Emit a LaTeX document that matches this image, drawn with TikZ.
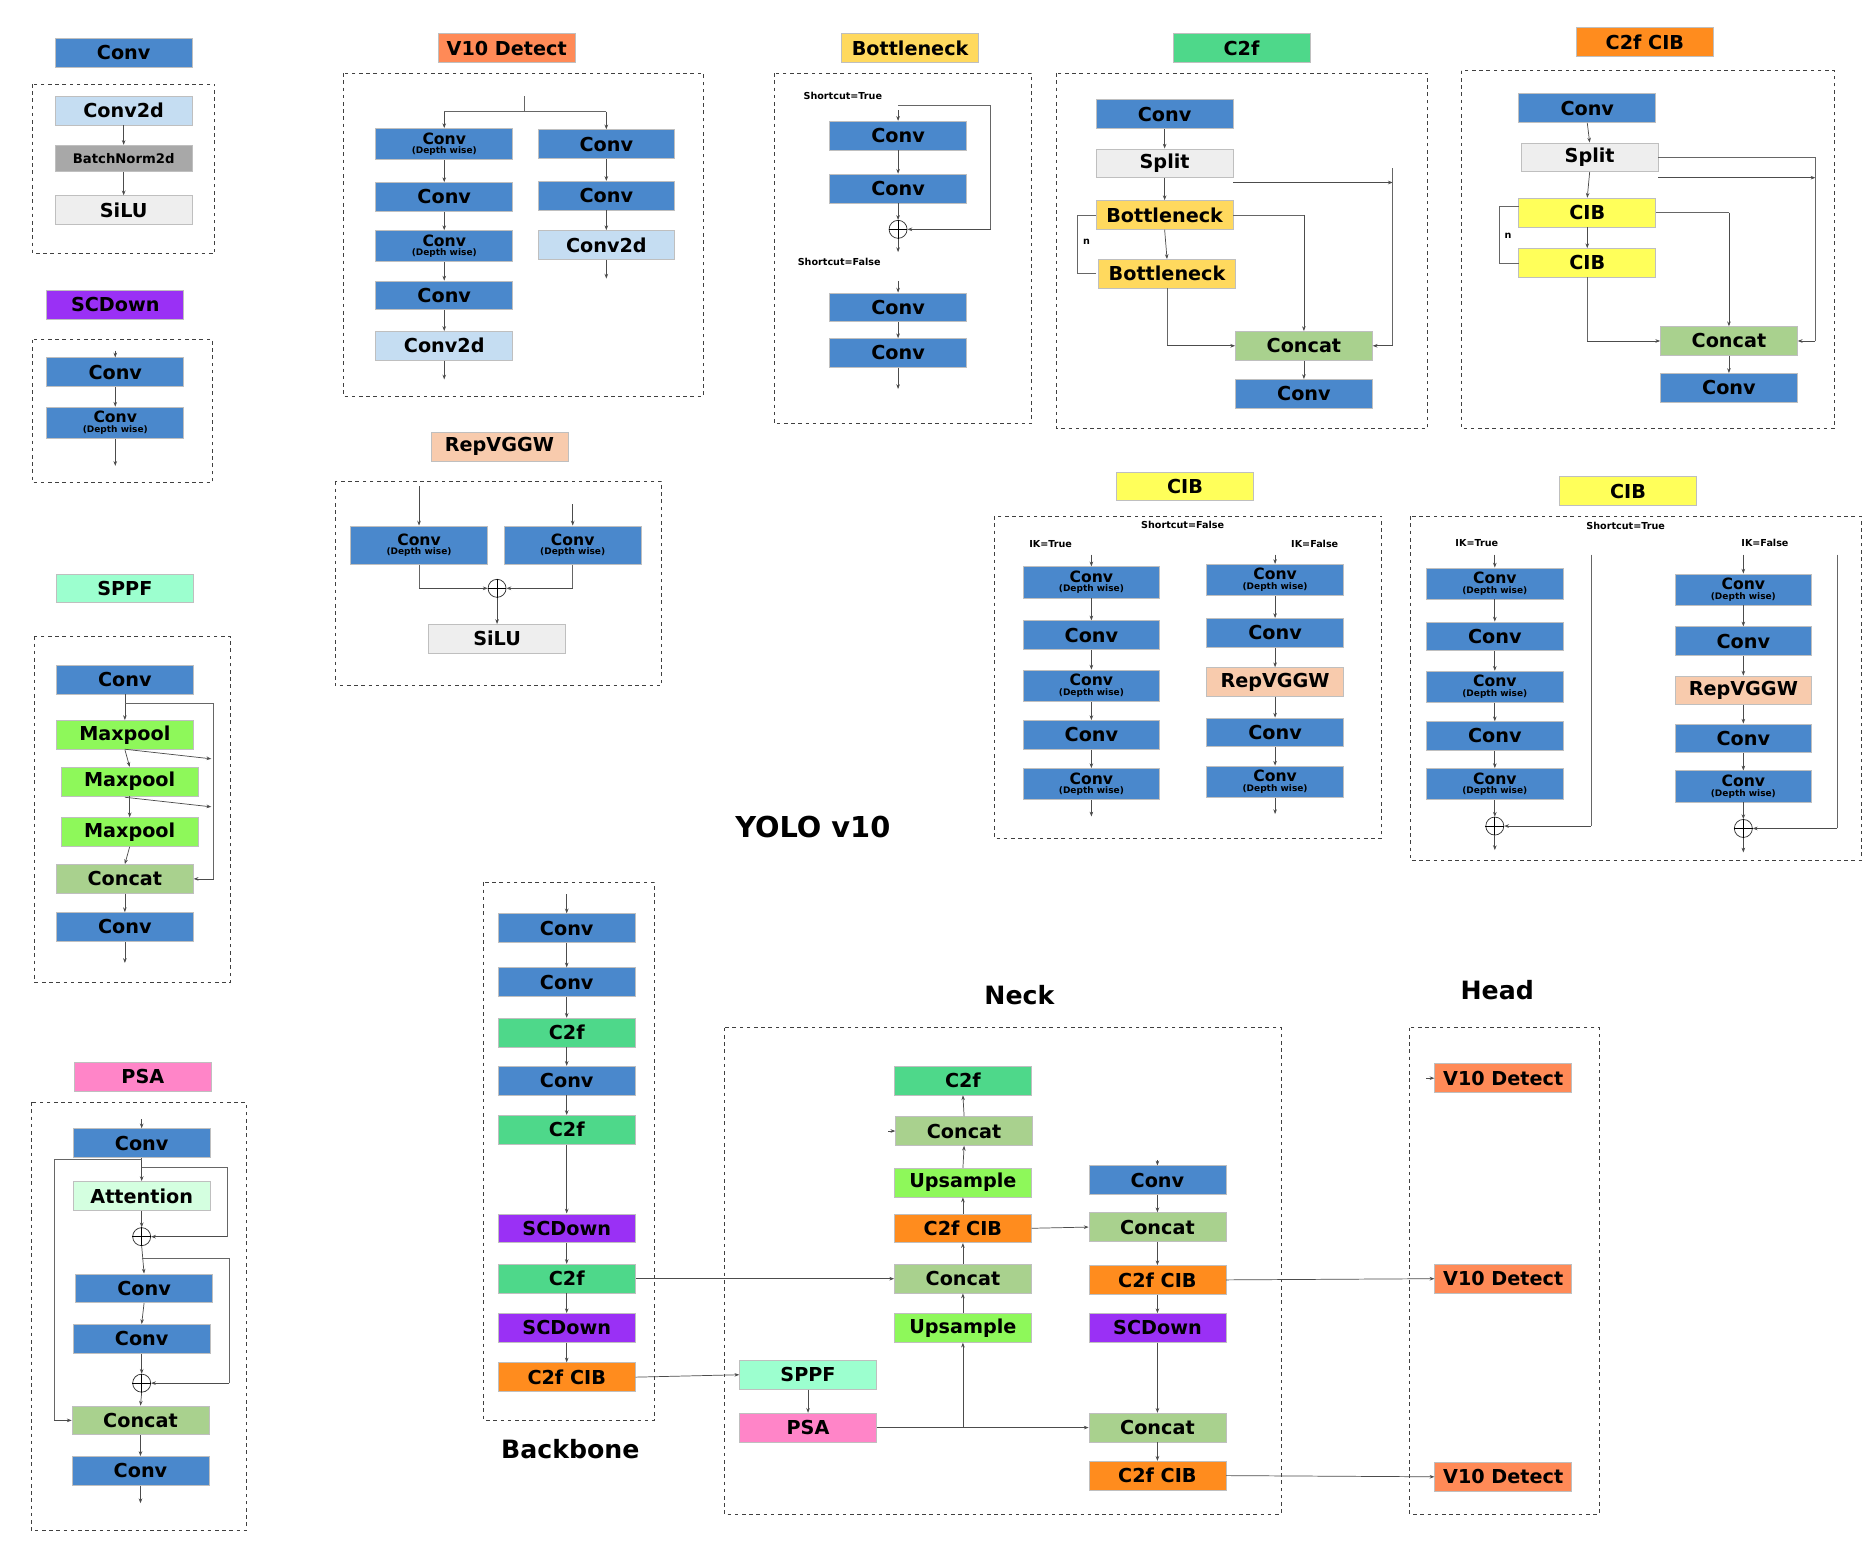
\documentclass[tikz,border=0pt]{standalone}
\usepackage{fontspec}
\setmainfont{DejaVu Sans}
\usetikzlibrary{arrows.meta}
\definecolor{cblue}{HTML}{4A88CC}
\definecolor{clb}{HTML}{C5DDF2}
\definecolor{cgray}{HTML}{A8A8A8}
\definecolor{clg}{HTML}{EEEEEE}
\definecolor{cpur}{HTML}{9A30F5}
\definecolor{cmint}{HTML}{9CFFCF}
\definecolor{clime}{HTML}{8EF85A}
\definecolor{ccat}{HTML}{A9D18E}
\definecolor{cpink}{HTML}{FF85C8}
\definecolor{catt}{HTML}{D4FFE0}
\definecolor{cdet}{HTML}{FF8A57}
\definecolor{cbn}{HTML}{FFD95E}
\definecolor{cc2f}{HTML}{4ED88A}
\definecolor{ccib}{HTML}{FF8C1E}
\definecolor{cyel}{HTML}{FFFF5A}
\definecolor{crep}{HTML}{F8CBAD}
\tikzset{
 bx/.style={draw=black!25,line width=0.6pt,minimum width=114pt,minimum height=24pt,inner sep=0pt,font=\fontsize{16}{16}\selectfont\bfseries},
 cv/.style={bx,fill=cblue},
 dw/.style={bx,fill=cblue,minimum height=26pt,align=center,font=\bfseries},
 c2d/.style={bx,fill=clb},
 gry/.style={bx,fill=clg},
 dsh/.style={draw=black!75,dashed,line width=0.8pt},
 ar/.style={-{Stealth[length=4pt,width=3pt]},draw=black!70,line width=0.6pt},
 ln/.style={draw=black!60,line width=0.6pt},
 lbl/.style={font=\fontsize{8}{8}\selectfont\bfseries},
 big/.style={font=\fontsize{21}{21}\selectfont\bfseries},
 op/.style={circle,draw=black!80,line width=0.6pt,minimum size=15pt,inner sep=0pt}
}
\newcommand\DW{{\fontsize{13}{11}\selectfont Conv}\\[-4pt]{\fontsize{7.5}{8}\selectfont (Depth wise)}}
\newcommand\ch[2]{\draw[ar] (#1.south)--(#2.north);}
\newcommand\opl[2]{\node[op] (#1) at (#2) {};\draw[line width=0.6pt] (#1.north)--(#1.south) (#1.west)--(#1.east);}
\begin{document}
\begin{tikzpicture}[x=1pt,y=-1pt]
\useasboundingbox[fill=white] (0,0) rectangle (1560,1291);
% ---------- Conv
\node[cv] (t1) at (103,44) {Conv};
\draw[dsh] (27,70) rectangle (179,211);
\node[c2d] (a1) at (103,92) {Conv2d};
\node[bx,fill=cgray,minimum height=22pt,font=\fontsize{11}{11}\selectfont\bfseries] (a2) at (103,132) {BatchNorm2d};
\node[gry] (a3) at (103,175) {SiLU};
\ch{a1}{a2}\ch{a2}{a3}
% ---------- SCDown
\node[bx,fill=cpur] (t2) at (96,254) {SCDown};
\draw[dsh] (27,283) rectangle (177,402);
\node[cv] (s1) at (96,310) {Conv};
\node[dw] (s2) at (96,352) {\DW};
\coordinate (s0) at (96,292); \coordinate (s3) at (96,388);
\draw[ar] (s0)--(s1.north); \ch{s1}{s2} \draw[ar] (s2.south)--(s3);
% ---------- SPPF
\node[bx,fill=cmint] (t3) at (104,490) {SPPF};
\draw[dsh] (29,530) rectangle (192,818);
\node[cv] (p1) at (104,566) {Conv};
\node[bx,fill=clime] (p2) at (104,612) {Maxpool};
\node[bx,fill=clime] (p3) at (108,651) {Maxpool};
\node[bx,fill=clime] (p4) at (108,693) {Maxpool};
\node[bx,fill=ccat] (p5) at (104,732) {Concat};
\node[cv] (p6) at (104,772) {Conv};
\coordinate (p7) at (104,802);
\ch{p1}{p2}\ch{p2}{p3}\ch{p3}{p4}\ch{p4}{p5}\ch{p5}{p6}\draw[ar] (p6.south)--(p7);
\draw[ln] (104,586)--(178,586)--(178,732); \draw[ar] (178,732)--(p5.east);
\draw[ar] (104,624)--(176,632); \draw[ar] (104,664)--(176,672);
% ---------- PSA
\node[bx,fill=cpink] (t4) at (119,897) {PSA};
\draw[dsh] (26,918) rectangle (205,1275);
\node[cv] (q1) at (118,952) {Conv};
\node[bx,fill=catt] (q2) at (118,996) {Attention};
\opl{q3}{118,1030}
\node[cv] (q4) at (120,1073) {Conv};
\node[cv] (q5) at (118,1115) {Conv};
\opl{q6}{118,1152}
\node[bx,fill=ccat] (q7) at (117,1183) {Concat};
\node[cv] (q8) at (117,1225) {Conv};
\coordinate (q0) at (118,932); \coordinate (q9) at (117,1252);
\draw[ar] (q0)--(q1.north); \ch{q1}{q2}\ch{q2}{q3}\ch{q3}{q4}\ch{q4}{q5}\ch{q5}{q6}\ch{q6}{q7}\ch{q7}{q8}\draw[ar] (q8.south)--(q9);
\draw[ln] (118,972)--(189,972)--(189,1030); \draw[ar] (189,1030)--(q3.east);
\draw[ln] (118,1048)--(191,1048)--(191,1152); \draw[ar] (191,1152)--(q6.east);
\draw[ln] (118,966)--(45,966)--(45,1183); \draw[ar] (45,1183)--(q7.west);
% ---------- V10 Detect
\node[bx,fill=cdet] (t5) at (422,40) {V10 Detect};
\draw[dsh] (286,61) rectangle (586,330);
\node[dw] (v1) at (370,120) {\DW};
\node[cv] (v2) at (370,164) {Conv};
\node[dw] (v3) at (370,205) {\DW};
\node[cv] (v4) at (370,246) {Conv};
\node[c2d] (v5) at (370,288) {Conv2d};
\node[cv] (v6) at (505,120) {Conv};
\node[cv] (v7) at (505,163) {Conv};
\node[c2d] (v8) at (505,204) {Conv2d};
\draw[ln] (370,93)--(505,93); \draw[ar] (370,93)--(v1.north); \draw[ar] (505,93)--(v6.north);
\draw[ln] (437,80)--(437,93);
\ch{v1}{v2}\ch{v2}{v3}\ch{v3}{v4}\ch{v4}{v5}\ch{v6}{v7}\ch{v7}{v8}
\coordinate (v9) at (370,316); \coordinate (v10) at (505,232);
\draw[ar] (v5.south)--(v9); \draw[ar] (v8.south)--(v10);
% ---------- RepVGGW
\node[bx,fill=crep] (t6) at (416,372) {RepVGGW};
\draw[dsh] (279,401) rectangle (551,571);
\node[dw,minimum height=32pt] (r1) at (349,454) {\DW};
\node[dw,minimum height=32pt] (r2) at (477,454) {\DW};
\opl{r3}{414,490}
\node[gry] (r4) at (414,532) {SiLU};
\draw[ar] (349,405)--(r1.north); \draw[ar] (477,420)--(r2.north);
\draw[ln] (r1.south)--(349,490); \draw[ar] (349,490)--(r3.west);
\draw[ln] (r2.south)--(477,490); \draw[ar] (477,490)--(r3.east);
\ch{r3}{r4}
% ---------- Bottleneck
\node[bx,fill=cbn] (t7) at (758,40) {Bottleneck};
\draw[dsh] (645,61) rectangle (859,353);
\node[lbl] at (702,80) {Shortcut=True};
\node[cv] (b1) at (748,113) {Conv};
\node[cv] (b2) at (748,157) {Conv};
\opl{b3}{748,191}
\draw[ar] (748,92)--(b1.north); \ch{b1}{b2}\ch{b2}{b3}
\draw[ln] (748,88)--(825,88)--(825,191); \draw[ar] (825,191)--(b3.east);
\draw[ar] (b3.south)--(748,210);
\node[lbl] at (699,218) {Shortcut=False};
\node[cv] (b4) at (748,256) {Conv};
\node[cv] (b5) at (748,294) {Conv};
\draw[ar] (748,234)--(b4.north); \ch{b4}{b5} \draw[ar] (b5.south)--(748,324);
% ---------- C2f
\node[bx,fill=cc2f] (t8) at (1034,40) {C2f};
\draw[dsh] (880,61) rectangle (1189,357);
\node[cv] (f1) at (970,95) {Conv};
\node[gry] (f2) at (970,136) {Split};
\node[bx,fill=cbn] (f3) at (970,179) {Bottleneck};
\node[bx,fill=cbn] (f4) at (972,228) {Bottleneck};
\node[bx,fill=ccat] (f5) at (1086,288) {Concat};
\node[cv] (f6) at (1086,328) {Conv};
\ch{f1}{f2}\ch{f2}{f3}\ch{f3}{f4}\ch{f5}{f6}
\draw[ar] (1027,152)--(1160,152);
\draw[ln] (1160,140)--(1160,288); \draw[ar] (1160,288)--(f5.east);
\draw[ln] (1027,179)--(1086,179); \draw[ar] (1086,179)--(f5.north);
\draw[ln] (972,240)--(972,288); \draw[ar] (972,288)--(f5.west);
\draw[ln] (913,228)--(897,228)--(897,179)--(913,179);
\node[lbl] at (905,201) {n};
% ---------- C2f CIB
\node[bx,fill=ccib] (t9) at (1370,35) {C2f CIB};
\draw[dsh] (1217,59) rectangle (1528,357);
\node[cv] (g1) at (1322,90) {Conv};
\node[gry] (g2) at (1324,131) {Split};
\node[bx,fill=cyel] (g3) at (1322,177) {CIB};
\node[bx,fill=cyel] (g4) at (1322,219) {CIB};
\node[bx,fill=ccat] (g5) at (1440,284) {Concat};
\node[cv] (g6) at (1440,323) {Conv};
\ch{g1}{g2}\ch{g2}{g3}\ch{g3}{g4}\ch{g5}{g6}
\draw[ar] (1381,148)--(1512,148);
\draw[ln] (1381,131)--(1512,131)--(1512,284); \draw[ar] (1512,284)--(g5.east);
\draw[ln] (1379,177)--(1440,177); \draw[ar] (1440,177)--(g5.north);
\draw[ln] (1322,231)--(1322,284); \draw[ar] (1322,284)--(g5.west);
\draw[ln] (1265,219)--(1249,219)--(1249,172)--(1265,172);
\node[lbl] at (1256,196) {n};
% ---------- CIB left
\node[bx,fill=cyel] (t10) at (987,405) {CIB};
\draw[dsh] (828,430) rectangle (1151,698);
\node[lbl] at (985,437) {Shortcut=False};
\node[lbl] at (875,453) {IK=True};
\node[lbl] at (1095,453) {IK=False};
\node[dw] (h1) at (909,485) {\DW};
\node[cv] (h2) at (909,529) {Conv};
\node[dw] (h3) at (909,571) {\DW};
\node[cv] (h4) at (909,612) {Conv};
\node[dw] (h5) at (909,653) {\DW};
\node[dw] (k1) at (1062,483) {\DW};
\node[cv] (k2) at (1062,527) {Conv};
\node[bx,fill=crep] (k3) at (1062,568) {RepVGGW};
\node[cv] (k4) at (1062,610) {Conv};
\node[dw] (k5) at (1062,651) {\DW};
\draw[ar] (909,462)--(h1.north); \draw[ar] (1062,462)--(k1.north);
\ch{h1}{h2}\ch{h2}{h3}\ch{h3}{h4}\ch{h4}{h5}\ch{k1}{k2}\ch{k2}{k3}\ch{k3}{k4}\ch{k4}{k5}
\draw[ar] (h5.south)--(909,680); \draw[ar] (k5.south)--(1062,678);
% ---------- CIB right
\node[bx,fill=cyel] (t11) at (1356,409) {CIB};
\draw[dsh] (1175,430) rectangle (1550,717);
\node[lbl] at (1354,438) {Shortcut=True};
\node[lbl] at (1230,452) {IK=True};
\node[lbl] at (1470,452) {IK=False};
\node[dw] (m1) at (1245,486) {\DW};
\node[cv] (m2) at (1245,530) {Conv};
\node[dw] (m3) at (1245,572) {\DW};
\node[cv] (m4) at (1245,613) {Conv};
\node[dw] (m5) at (1245,653) {\DW};
\opl{m6}{1245,688}
\node[dw] (n1) at (1452,491) {\DW};
\node[cv] (n2) at (1452,534) {Conv};
\node[bx,fill=crep] (n3) at (1452,575) {RepVGGW};
\node[cv] (n4) at (1452,615) {Conv};
\node[dw] (n5) at (1452,655) {\DW};
\opl{n6}{1452,690}
\draw[ar] (1245,462)--(m1.north); \draw[ar] (1452,462)--(n1.north);
\ch{m1}{m2}\ch{m2}{m3}\ch{m3}{m4}\ch{m4}{m5}\ch{m5}{m6}\ch{n1}{n2}\ch{n2}{n3}\ch{n3}{n4}\ch{n4}{n5}\ch{n5}{n6}
\draw[ln] (1325,462)--(1325,688); \draw[ar] (1325,688)--(m6.east);
\draw[ln] (1530,462)--(1530,690); \draw[ar] (1530,690)--(n6.east);
\draw[ar] (m6.south)--(1245,708); \draw[ar] (n6.south)--(1452,710);
% ---------- title
\node[font=\fontsize{24}{24}\selectfont\bfseries] (yt) at (677,689) {YOLO v10};
% ---------- Backbone
\draw[dsh] (403,735) rectangle (545,1183);
\node[cv] (k01) at (472,773) {Conv};
\node[cv] (k02) at (472,818) {Conv};
\node[bx,fill=cc2f] (k03) at (472,860) {C2f};
\node[cv] (k04) at (472,900) {Conv};
\node[bx,fill=cc2f] (k05) at (472,941) {C2f};
\node[bx,fill=cpur] (k06) at (472,1023) {SCDown};
\node[bx,fill=cc2f] (k07) at (472,1065) {C2f};
\node[bx,fill=cpur] (k08) at (472,1106) {SCDown};
\node[bx,fill=ccib] (k09) at (472,1147) {C2f CIB};
\draw[ar] (472,745)--(k01.north);
\ch{k01}{k02}\ch{k02}{k03}\ch{k03}{k04}\ch{k04}{k05}\ch{k05}{k06}\ch{k06}{k07}\ch{k07}{k08}\ch{k08}{k09}
\node[big] (bbl) at (475,1207) {Backbone};
% ---------- Neck
\node[big] (nkl) at (849,829) {Neck};
\draw[dsh] (603,856) rectangle (1067,1261);
\node[bx,fill=cmint] (e1) at (673,1145) {SPPF};
\node[bx,fill=cpink] (e2) at (673,1189) {PSA};
\node[bx,fill=cc2f] (e3) at (802,900) {C2f};
\node[bx,fill=ccat] (e4) at (803,942) {Concat};
\node[bx,fill=clime] (e5) at (802,985) {Upsample};
\node[bx,fill=ccib] (e6) at (802,1023) {C2f CIB};
\node[bx,fill=ccat] (e7) at (802,1065) {Concat};
\node[bx,fill=clime] (e8) at (802,1106) {Upsample};
\node[cv] (e9) at (964,983) {Conv};
\node[bx,fill=ccat] (e10) at (964,1022) {Concat};
\node[bx,fill=ccib] (e11) at (964,1066) {C2f CIB};
\node[bx,fill=cpur] (e12) at (964,1106) {SCDown};
\node[bx,fill=ccat] (e13) at (964,1189) {Concat};
\node[bx,fill=ccib] (e14) at (964,1229) {C2f CIB};
\draw[ar] (k07.east)--(e7.west);
\draw[ar] (k09.east)--(e1.west);
\ch{e1}{e2}
\coordinate (j1) at (802,1189);
\draw[ar] (e2.east)--(e13.west);
\draw[ar] (j1)--(e8.south);
\draw[ar] (e8.north)--(e7.south); \draw[ar] (e7.north)--(e6.south); \draw[ar] (e6.north)--(e5.south);
\draw[ar] (e5.north)--(e4.south); \draw[ar] (e4.north)--(e3.south);
\draw[ar] (740,942)--(e4.west);
\draw[ar] (e6.east)--(e10.west);
\draw[ar] (964,966)--(e9.north);
\ch{e9}{e10}\ch{e10}{e11}\ch{e11}{e12}\ch{e12}{e13}\ch{e13}{e14}
% ---------- Head
\node[big] (hdl) at (1247,825) {Head};
\draw[dsh] (1174,856) rectangle (1332,1261);
\node[bx,fill=cdet] (d1) at (1252,898) {V10 Detect};
\node[bx,fill=cdet] (d2) at (1252,1065) {V10 Detect};
\node[bx,fill=cdet] (d3) at (1252,1230) {V10 Detect};
\draw[ar] (1188,898)--(d1.west);
\draw[ar] (e11.east)--(d2.west);
\draw[ar] (e14.east)--(d3.west);
\end{tikzpicture}
\end{document}
